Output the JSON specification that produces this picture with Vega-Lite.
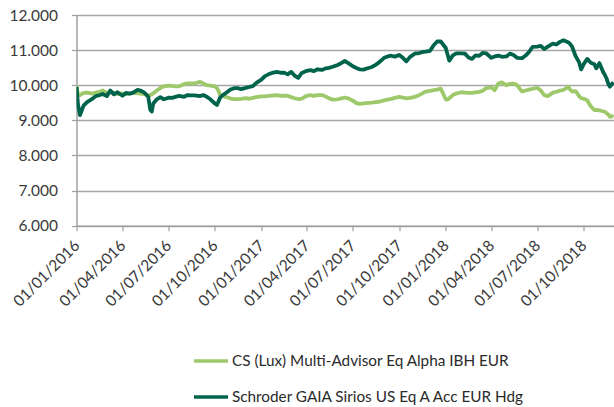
{
  "$schema": "https://vega.github.io/schema/vega-lite/v6.json",
  "autosize": {"type": "none"},
  "width": 537.5,
  "height": 210.7,
  "padding": {"left": 76.5, "top": 15, "right": 0, "bottom": 181.3},
  "background": "white",
  "config": {
    "view": {"stroke": null},
    "font": "Lato"
  },
  "data": {"values": [
    {"date": "2016-01-01", "sch": 9950, "cs": 10000}, {"date": "2016-01-04", "sch": 9450, "cs": 9720}, {"date": "2016-01-08", "sch": 9150, "cs": 9720}, {"date": "2016-01-15", "sch": 9420, "cs": 9780}, {"date": "2016-01-22", "sch": 9520, "cs": 9790},
    {"date": "2016-02-01", "sch": 9610, "cs": 9760}, {"date": "2016-02-08", "sch": 9690, "cs": 9790}, {"date": "2016-02-15", "sch": 9715, "cs": 9815}, {"date": "2016-02-22", "sch": 9750, "cs": 9850},
    {"date": "2016-03-01", "sch": 9690, "cs": 9780}, {"date": "2016-03-08", "sch": 9850, "cs": 9800}, {"date": "2016-03-15", "sch": 9740, "cs": 9780}, {"date": "2016-03-22", "sch": 9800, "cs": 9750},
    {"date": "2016-04-01", "sch": 9700, "cs": 9765}, {"date": "2016-04-08", "sch": 9780, "cs": 9750}, {"date": "2016-04-15", "sch": 9760, "cs": 9760}, {"date": "2016-04-22", "sch": 9790, "cs": 9785},
    {"date": "2016-05-01", "sch": 9870, "cs": 9770}, {"date": "2016-05-08", "sch": 9840, "cs": 9760}, {"date": "2016-05-15", "sch": 9780, "cs": 9740}, {"date": "2016-05-22", "sch": 9670, "cs": 9720}, {"date": "2016-05-26", "sch": 9300, "cs": 9720}, {"date": "2016-05-29", "sch": 9250, "cs": 9740},
    {"date": "2016-06-01", "sch": 9480, "cs": 9770}, {"date": "2016-06-08", "sch": 9600, "cs": 9850}, {"date": "2016-06-15", "sch": 9660, "cs": 9920}, {"date": "2016-06-22", "sch": 9600, "cs": 9970},
    {"date": "2016-07-01", "sch": 9645, "cs": 9990}, {"date": "2016-07-08", "sch": 9640, "cs": 9980}, {"date": "2016-07-15", "sch": 9670, "cs": 9965}, {"date": "2016-07-22", "sch": 9700, "cs": 9970},
    {"date": "2016-08-01", "sch": 9670, "cs": 10030}, {"date": "2016-08-08", "sch": 9720, "cs": 10055}, {"date": "2016-08-15", "sch": 9710, "cs": 10050}, {"date": "2016-08-22", "sch": 9710, "cs": 10050},
    {"date": "2016-09-01", "sch": 9690, "cs": 10100}, {"date": "2016-09-08", "sch": 9720, "cs": 10050}, {"date": "2016-09-15", "sch": 9670, "cs": 10000}, {"date": "2016-09-22", "sch": 9600, "cs": 9990},
    {"date": "2016-10-01", "sch": 9480, "cs": 9965}, {"date": "2016-10-05", "sch": 9440, "cs": 9920}, {"date": "2016-10-08", "sch": 9540, "cs": 9840}, {"date": "2016-10-11", "sch": 9640, "cs": 9730}, {"date": "2016-10-15", "sch": 9700, "cs": 9700}, {"date": "2016-10-22", "sch": 9770, "cs": 9670},
    {"date": "2016-11-01", "sch": 9880, "cs": 9620}, {"date": "2016-11-08", "sch": 9915, "cs": 9605}, {"date": "2016-11-15", "sch": 9915, "cs": 9605}, {"date": "2016-11-22", "sch": 9890, "cs": 9610},
    {"date": "2016-12-01", "sch": 9925, "cs": 9630}, {"date": "2016-12-08", "sch": 9950, "cs": 9615}, {"date": "2016-12-15", "sch": 9975, "cs": 9640}, {"date": "2016-12-22", "sch": 10070, "cs": 9660},
    {"date": "2017-01-01", "sch": 10160, "cs": 9680}, {"date": "2017-01-08", "sch": 10260, "cs": 9685}, {"date": "2017-01-15", "sch": 10310, "cs": 9695}, {"date": "2017-01-22", "sch": 10350, "cs": 9705},
    {"date": "2017-02-01", "sch": 10380, "cs": 9715}, {"date": "2017-02-08", "sch": 10355, "cs": 9700}, {"date": "2017-02-15", "sch": 10360, "cs": 9700}, {"date": "2017-02-22", "sch": 10310, "cs": 9700},
    {"date": "2017-03-01", "sch": 10380, "cs": 9660}, {"date": "2017-03-08", "sch": 10270, "cs": 9630}, {"date": "2017-03-15", "sch": 10210, "cs": 9605}, {"date": "2017-03-22", "sch": 10350, "cs": 9620},
    {"date": "2017-04-01", "sch": 10410, "cs": 9700}, {"date": "2017-04-08", "sch": 10430, "cs": 9720}, {"date": "2017-04-15", "sch": 10400, "cs": 9700}, {"date": "2017-04-22", "sch": 10455, "cs": 9720},
    {"date": "2017-05-01", "sch": 10435, "cs": 9720}, {"date": "2017-05-08", "sch": 10480, "cs": 9680}, {"date": "2017-05-15", "sch": 10495, "cs": 9630}, {"date": "2017-05-22", "sch": 10525, "cs": 9590},
    {"date": "2017-06-01", "sch": 10575, "cs": 9600}, {"date": "2017-06-08", "sch": 10630, "cs": 9625}, {"date": "2017-06-15", "sch": 10690, "cs": 9645}, {"date": "2017-06-22", "sch": 10630, "cs": 9625},
    {"date": "2017-07-01", "sch": 10540, "cs": 9560}, {"date": "2017-07-08", "sch": 10490, "cs": 9490}, {"date": "2017-07-15", "sch": 10450, "cs": 9470}, {"date": "2017-07-22", "sch": 10445, "cs": 9485},
    {"date": "2017-08-01", "sch": 10490, "cs": 9500}, {"date": "2017-08-08", "sch": 10520, "cs": 9505}, {"date": "2017-08-15", "sch": 10580, "cs": 9520}, {"date": "2017-08-22", "sch": 10650, "cs": 9530},
    {"date": "2017-09-01", "sch": 10780, "cs": 9570}, {"date": "2017-09-08", "sch": 10820, "cs": 9590}, {"date": "2017-09-15", "sch": 10840, "cs": 9610}, {"date": "2017-09-22", "sch": 10815, "cs": 9640},
    {"date": "2017-10-01", "sch": 10860, "cs": 9670}, {"date": "2017-10-08", "sch": 10780, "cs": 9650}, {"date": "2017-10-15", "sch": 10680, "cs": 9625}, {"date": "2017-10-22", "sch": 10800, "cs": 9640},
    {"date": "2017-11-01", "sch": 10905, "cs": 9670}, {"date": "2017-11-08", "sch": 10910, "cs": 9710}, {"date": "2017-11-15", "sch": 10940, "cs": 9760}, {"date": "2017-11-22", "sch": 10955, "cs": 9820},
    {"date": "2017-12-01", "sch": 10980, "cs": 9840}, {"date": "2017-12-08", "sch": 11140, "cs": 9860}, {"date": "2017-12-15", "sch": 11245, "cs": 9875}, {"date": "2017-12-22", "sch": 11250, "cs": 9905},
    {"date": "2018-01-01", "sch": 11060, "cs": 9600}, {"date": "2018-01-04", "sch": 10900, "cs": 9590}, {"date": "2018-01-08", "sch": 10700, "cs": 9630}, {"date": "2018-01-15", "sch": 10850, "cs": 9720}, {"date": "2018-01-22", "sch": 10910, "cs": 9765},
    {"date": "2018-02-01", "sch": 10910, "cs": 9800}, {"date": "2018-02-08", "sch": 10900, "cs": 9790}, {"date": "2018-02-15", "sch": 10790, "cs": 9780}, {"date": "2018-02-22", "sch": 10750, "cs": 9780},
    {"date": "2018-03-01", "sch": 10850, "cs": 9800}, {"date": "2018-03-08", "sch": 10835, "cs": 9810}, {"date": "2018-03-15", "sch": 10920, "cs": 9840}, {"date": "2018-03-22", "sch": 10910, "cs": 9920},
    {"date": "2018-04-01", "sch": 10780, "cs": 9940}, {"date": "2018-04-08", "sch": 10820, "cs": 9860}, {"date": "2018-04-15", "sch": 10845, "cs": 10050}, {"date": "2018-04-22", "sch": 10810, "cs": 10080},
    {"date": "2018-05-01", "sch": 10820, "cs": 10000}, {"date": "2018-05-08", "sch": 10900, "cs": 10040}, {"date": "2018-05-15", "sch": 10860, "cs": 10045}, {"date": "2018-05-22", "sch": 10780, "cs": 10005},
    {"date": "2018-06-01", "sch": 10770, "cs": 9820}, {"date": "2018-06-08", "sch": 10845, "cs": 9850}, {"date": "2018-06-15", "sch": 10950, "cs": 9875}, {"date": "2018-06-22", "sch": 11095, "cs": 9900},
    {"date": "2018-07-01", "sch": 11100, "cs": 9925}, {"date": "2018-07-08", "sch": 11120, "cs": 9850}, {"date": "2018-07-15", "sch": 11030, "cs": 9720}, {"date": "2018-07-22", "sch": 11100, "cs": 9690},
    {"date": "2018-08-01", "sch": 11185, "cs": 9790}, {"date": "2018-08-08", "sch": 11160, "cs": 9815}, {"date": "2018-08-15", "sch": 11235, "cs": 9845}, {"date": "2018-08-22", "sch": 11280, "cs": 9870},
    {"date": "2018-09-01", "sch": 11220, "cs": 9950}, {"date": "2018-09-04", "sch": 11180, "cs": 9880}, {"date": "2018-09-08", "sch": 11100, "cs": 9820}, {"date": "2018-09-15", "sch": 10830, "cs": 9830}, {"date": "2018-09-22", "sch": 10650, "cs": 9690}, {"date": "2018-09-26", "sch": 10450, "cs": 9630},
    {"date": "2018-10-01", "sch": 10600, "cs": 9615}, {"date": "2018-10-08", "sch": 10750, "cs": 9570}, {"date": "2018-10-15", "sch": 10640, "cs": 9400}, {"date": "2018-10-22", "sch": 10600, "cs": 9295}, {"date": "2018-10-26", "sch": 10480, "cs": 9300},
    {"date": "2018-11-01", "sch": 10630, "cs": 9285}, {"date": "2018-11-08", "sch": 10390, "cs": 9260}, {"date": "2018-11-12", "sch": 10290, "cs": 9245}, {"date": "2018-11-15", "sch": 10200, "cs": 9210}, {"date": "2018-11-19", "sch": 10030, "cs": 9160},
    {"date": "2018-11-22", "sch": 9960, "cs": 9100}, {"date": "2018-11-26", "sch": 10040, "cs": 9120}, {"date": "2018-11-29", "sch": 10080, "cs": 9100}
  ]},
  "transform": [
    {"fold": ["cs", "sch"], "as": ["series", "value"]}
  ],
  "mark": {"type": "line", "strokeWidth": 3.8, "strokeJoin": "round", "clip": true},
  "encoding": {
    "x": {
      "field": "date", "type": "temporal",
      "scale": {"type": "utc", "domain": [{"year": 2016, "month": 1, "date": 1, "utc": true}, {"year": 2018, "month": 11, "date": 30, "utc": true}]},
      "axis": {
        "title": null,
        "values": [
          {"year": 2016, "month": 1, "date": 1, "utc": true}, {"year": 2016, "month": 4, "date": 1, "utc": true},
          {"year": 2016, "month": 7, "date": 1, "utc": true}, {"year": 2016, "month": 10, "date": 1, "utc": true},
          {"year": 2017, "month": 1, "date": 1, "utc": true}, {"year": 2017, "month": 4, "date": 1, "utc": true},
          {"year": 2017, "month": 7, "date": 1, "utc": true}, {"year": 2017, "month": 10, "date": 1, "utc": true},
          {"year": 2018, "month": 1, "date": 1, "utc": true}, {"year": 2018, "month": 4, "date": 1, "utc": true},
          {"year": 2018, "month": 7, "date": 1, "utc": true}, {"year": 2018, "month": 10, "date": 1, "utc": true}
        ],
        "labelExpr": "utcFormat(datum.value, '%d/%m/%Y')",
        "labelAngle": -45,
        "labelAlign": "right",
        "labelBaseline": "middle",
        "labelPadding": 12,
        "labelFontSize": 15.5,
        "labelColor": "#3a3a3a",
        "labelFlush": false,
        "labelOverlap": false,
        "domainColor": "#a0a0a0",
        "domainWidth": 1.5,
        "tickColor": "#a0a0a0",
        "tickWidth": 1.2,
        "tickSize": 5,
        "grid": false
      }
    },
    "y": {
      "field": "value", "type": "quantitative",
      "scale": {"domain": [6000, 12000], "nice": false, "zero": false},
      "axis": {
        "title": null,
        "values": [6000, 7000, 8000, 9000, 10000, 11000, 12000],
        "labelExpr": "replace(format(datum.value, ',.0f'), ',', '.')",
        "labelFontSize": 15.5,
        "labelColor": "#3a3a3a",
        "labelPadding": 14,
        "domainColor": "#a0a0a0",
        "domainWidth": 1.5,
        "tickColor": "#a0a0a0",
        "tickWidth": 1.2,
        "tickSize": 5,
        "grid": true,
        "gridColor": "#a6a6a6",
        "gridWidth": 1.5
      }
    },
    "color": {
      "field": "series", "type": "nominal",
      "scale": {
        "domain": ["cs", "sch"],
        "range": ["#9dc96a", "#00634c"]
      },
      "legend": {
        "title": null,
        "orient": "none",
        "legendX": 115.5,
        "legendY": 327,
        "direction": "vertical",
        "symbolType": "stroke",
        "symbolSize": 1156,
        "symbolStrokeWidth": 3.5,
        "labelExpr": "datum.value == 'cs' ? 'CS (Lux) Multi-Advisor Eq Alpha IBH EUR' : 'Schroder GAIA Sirios US Eq A Acc EUR Hdg'",
        "labelFontSize": 15.3,
        "labelColor": "#2a2a2a",
        "labelOffset": 2,
        "rowPadding": 8,
        "padding": 0,
        "labelLimit": 400
      }
    }
  }
}
